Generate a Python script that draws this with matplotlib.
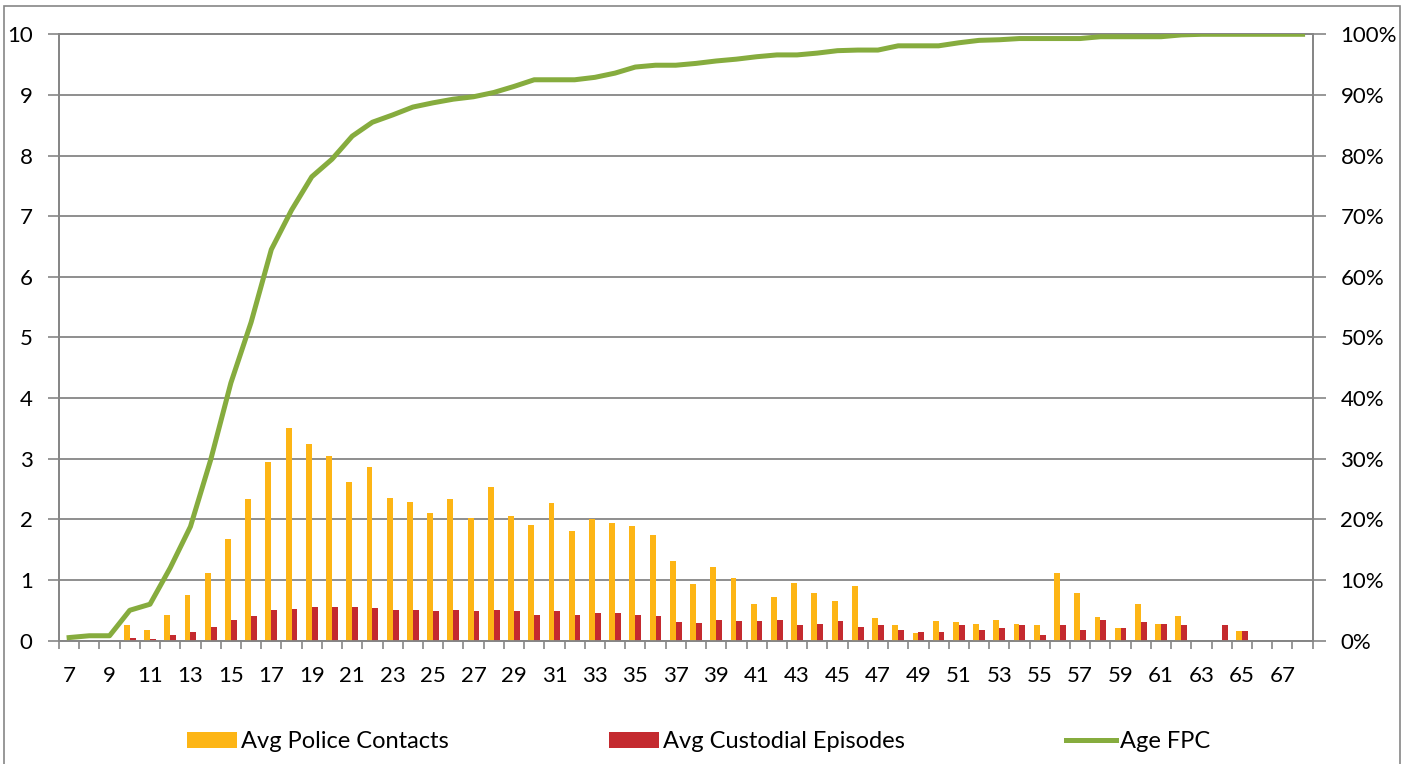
import numpy as np
import matplotlib
matplotlib.use('Agg')
import matplotlib.pyplot as plt
from matplotlib.patches import Rectangle
from matplotlib.ticker import PercentFormatter

plt.rcParams['font.family'] = ['Lato', 'DejaVu Sans']

# Edades (categorías del eje x)
edades = list(range(7, 69))

# Promedio de contactos con la policía por edad
contactos = [0, 0, 0,
             0.25, 0.18, 0.42, 0.75, 1.11, 1.67, 2.34, 2.95, 3.50, 3.25,
             3.04, 2.61, 2.87,
             2.36, 2.29, 2.11, 2.34, 2.03, 2.54, 2.06, 1.91, 2.27, 1.81,
             2.00, 1.94, 1.89, 1.74, 1.31, 0.93, 1.21,
             1.04, 0.61, 0.72, 0.95, 0.78, 0.66, 0.90, 0.38, 0.25, 0.12,
             0.33, 0.30, 0.28, 0.34, 0.28, 0.25,
             1.11, 0.79, 0.39, 0.21, 0.61, 0.28, 0.41,
             0, 0, 0.16, 0, 0, 0]

# Promedio de episodios de custodia por edad
custodia = [0, 0, 0,
            0.04, 0.03, 0.09, 0.15, 0.22, 0.34, 0.40, 0.50, 0.52, 0.56,
            0.56, 0.56, 0.54,
            0.51, 0.51, 0.49, 0.50, 0.49, 0.50, 0.48, 0.42, 0.48, 0.43,
            0.45, 0.46, 0.43, 0.41, 0.31, 0.29, 0.34,
            0.32, 0.32, 0.34, 0.26, 0.28, 0.33, 0.23, 0.26, 0.18, 0.14,
            0.14, 0.26, 0.18, 0.21, 0.25, 0.10,
            0.26, 0.18, 0.34, 0.21, 0.31, 0.28, 0.25,
            0, 0.25, 0.16, 0, 0, 0]

# Porcentaje acumulado de edad del primer contacto (Age FPC)
fpc = [0.5, 0.8, 0.8, 5.0, 6.0, 12.0, 18.8, 29.8, 42.5, 52.5,
       64.5, 71.0, 76.5, 79.4, 83.2, 85.5, 86.7, 88.0, 88.7, 89.3,
       89.7, 90.4, 91.4, 92.5, 92.5, 92.5, 92.9, 93.6, 94.6, 94.9,
       94.9, 95.2, 95.6, 95.9, 96.3, 96.6, 96.6, 96.9, 97.3, 97.4,
       97.4, 98.1, 98.1, 98.1, 98.6, 99.0, 99.1, 99.3, 99.3, 99.3,
       99.3, 99.6, 99.6, 99.6, 99.6, 99.9, 100, 100, 100, 100,
       100, 100]

gris = '#868686'
amarillo = '#FDB515'
rojo = '#C42A2F'
verde = '#86AC3E'
letra = 16

fig = plt.figure(figsize=(14.08, 7.64), dpi=100)
ax = fig.add_axes([59 / 1408, 1 - 640.6 / 764, (1312.7 - 59) / 1408,
                   (640.6 - 34.3) / 764])

x = np.arange(len(edades))
ancho = 0.29

# Barras
b1 = ax.bar(x - ancho / 2, contactos, ancho, color=amarillo, linewidth=0,
            label='Avg Police Contacts', zorder=3)
b2 = ax.bar(x + ancho / 2, custodia, ancho, color=rojo, linewidth=0,
            label='Avg Custodial Episodes', zorder=3)

ax.set_xlim(-0.5, len(edades) - 0.5)
ax.set_ylim(0, 10)
ax.set_yticks(range(0, 11))
ax.grid(axis='y', color=gris, linewidth=1.3, zorder=0)
ax.set_axisbelow(True)

# Marcas del eje x en los bordes de cada categoría, etiquetas cada 2 años
ax.set_xticks(np.arange(-0.5, len(edades), 1))
ax.set_xticklabels([])
ax.set_xticks(x[::2], minor=True)
ax.set_xticklabels([str(e) for e in edades[::2]], minor=True)
ax.tick_params(axis='x', which='major', length=6, width=1.2, color=gris)
ax.tick_params(axis='x', which='minor', length=0, pad=18, labelsize=letra)
ax.tick_params(axis='y', length=8, width=1.2, color=gris, pad=11,
               labelsize=letra)

for lado in ['left', 'bottom', 'top', 'right']:
    ax.spines[lado].set_color(gris)
    ax.spines[lado].set_linewidth(1.3)

# Eje secundario con la línea acumulada
ax2 = ax.twinx()
l1, = ax2.plot(x, fpc, color=verde, linewidth=3.6, label='Age FPC',
               solid_joinstyle='round', zorder=4)
ax2.set_ylim(0, 100)
ax2.set_yticks(range(0, 101, 10))
ax2.yaxis.set_major_formatter(PercentFormatter(100, decimals=0))
ax2.tick_params(axis='y', length=9, width=1.2, color=gris, pad=11,
                labelsize=letra)
for lado in ['left', 'bottom', 'top', 'right']:
    ax2.spines[lado].set_color(gris)
    ax2.spines[lado].set_linewidth(1.3)

# Leyenda inferior
fig.legend([b1, b2, l1],
           ['Avg Police Contacts', 'Avg Custodial Episodes', 'Age FPC'],
           loc='center', bbox_to_anchor=(0.496, 0.029), ncol=3,
           frameon=False, fontsize=17, handlelength=2.12,
           handleheight=0.64, handletextpad=0.17, columnspacing=6.8)

# Marco del gráfico
marco = Rectangle((4 / 1408, -0.05), (1399.5 - 4) / 1408,
                  1.05 - 6 / 764, transform=fig.transFigure, fill=False,
                  edgecolor=gris, linewidth=1.2)
fig.patches.append(marco)

fig.savefig('out.png', dpi=100)
